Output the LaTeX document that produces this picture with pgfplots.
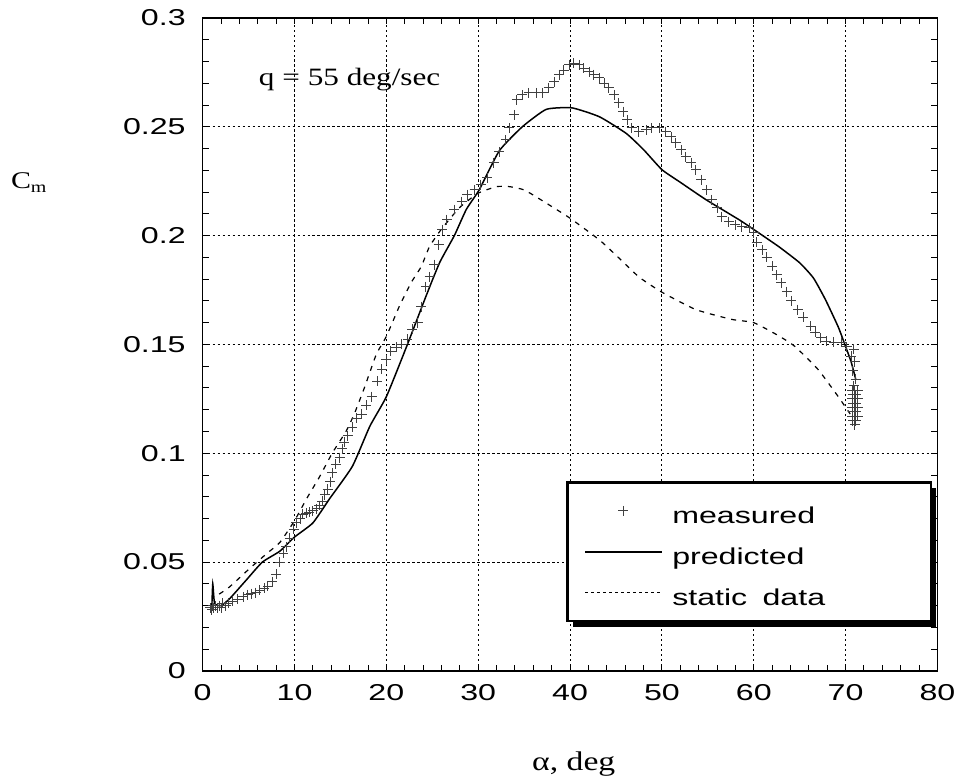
\documentclass[border=0pt]{standalone}
\usepackage{pgfplots}
\pgfplotsset{compat=1.18}
\usepackage{fontspec}
\setmainfont[FakeStretch=1.25]{Liberation Serif}
\newfontfamily\tickfont[FakeStretch=1.4]{Liberation Sans}
\usetikzlibrary{shadows}
\makeatletter
\tikzset{noshadow/.code={\let\tikz@preactions\pgfutil@empty}}
\makeatother
\begin{document}
\begin{tikzpicture}
\begin{axis}[
  scale only axis,
  width=368pt, height=327pt,
  xmin=0, xmax=80, ymin=0, ymax=0.3,
  xtick={0,10,...,80},
  xticklabels={0,10,20,30,40,50,60,70,80},
  ytick={0,0.05,0.1,0.15,0.2,0.25,0.3},
  yticklabels={0,0.05,0.1,0.15,0.2,0.25,0.3},
  minor x tick num=4, minor y tick num=4,
  tick pos=both, tick align=inside,
  major tick length=3pt, minor tick length=3pt,
  every tick/.style={black, line width=0.5pt},
  axis line style={line width=0.8pt},
  grid=major,
  major grid style={black, line width=0.5pt, dash pattern=on 1.2pt off 1.3pt},
  ticklabel style={font=\fontsize{11.5}{13}\tickfont},
  yticklabel style={xshift=-5pt},
  xticklabel style={yshift=-3.5pt},
  clip=false,
  xlabel={α, deg},
  xlabel style={font=\fontsize{13.5}{15}\selectfont, at={(rel axis cs:0.505,-0.142)}, anchor=center},
  ylabel={C\textsubscript{m}},
  ylabel style={font=\fontsize{12}{14}\selectfont, rotate=-90, at={(rel axis cs:-0.236,0.748)}, anchor=center},
  legend style={at={(axis cs:39.6,0.0872)}, anchor=north west,
    draw=black, line width=1.3pt, fill=white,
    drop shadow={shadow xshift=2.5pt, shadow yshift=-3pt, fill=black, opacity=1},
    inner xsep=8.5pt, inner ysep=5.75pt, row sep=3.5pt, column sep=5pt,
    font=\fontsize{11.5}{13}\tickfont,
    nodes={inner sep=0pt, text height=15pt, text depth=2pt, text width=121pt, align=left}},
  legend cell align=left,
]
\addplot[only marks, mark=+, mark size=2.5pt, mark options={line width=0.5pt, black!75},
  legend image code/.code={\draw[noshadow, mark=+, mark size=2.5pt, line width=0.5pt, black!60] plot coordinates {(0.67cm,0cm)};}]
coordinates {
(0.8,0.029)(1.0,0.028)(1.1,0.030)(1.2,0.029)(1.4,0.030)(1.6,0.029)(1.8,0.030)(2.0,0.029)
(2.2,0.031)(2.5,0.030)(2.8,0.031)(3.3,0.032)(3.8,0.033)(4.4,0.034)(4.9,0.035)(5.3,0.0355)
(5.8,0.036)(6.2,0.037)(6.7,0.038)(7.1,0.039)(7.6,0.041)(8.0,0.0445)(8.4,0.050)(8.8,0.054)
(9.1,0.057)(9.5,0.061)(9.9,0.065)(10.2,0.068)(10.6,0.070)(10.9,0.072)(11.3,0.0725)(11.6,0.073)
(12.0,0.0735)(12.4,0.0745)(12.7,0.076)(13.0,0.078)(13.3,0.081)(13.6,0.0835)(13.9,0.087)(14.1,0.091)
(14.5,0.095)(14.9,0.098)(15.2,0.102)(15.4,0.105)(15.8,0.108)(16.3,0.112)(16.8,0.116)(17.3,0.118)
(17.8,0.122)(18.4,0.126)(19.0,0.133)(19.5,0.1385)(20.0,0.143)(20.5,0.1468)(21.1,0.1486)(21.7,0.150)
(22.3,0.1523)(22.8,0.157)(23.4,0.160)(23.8,0.1674)(24.3,0.1766)(24.7,0.181)(25.2,0.1867)(25.7,0.1959)
(26.1,0.2028)(26.6,0.2073)(27.4,0.212)(28.2,0.2156)(28.8,0.2188)(29.6,0.221)(30.3,0.2234)(31.0,0.2266)
(31.7,0.2335)(32.3,0.2385)(33.0,0.244)(33.4,0.2495)(33.9,0.2555)(34.2,0.2624)(34.8,0.2647)(35.5,0.2656)
(36.3,0.2656)(37.0,0.2656)(37.7,0.268)(38.3,0.2706)(38.8,0.274)(39.3,0.276)(39.9,0.2784)(40.4,0.2793)
(41.0,0.2784)(41.5,0.277)(42.1,0.2752)(42.6,0.274)(43.2,0.2725)(43.7,0.270)(44.2,0.268)(44.8,0.2647)
(45.3,0.261)(45.8,0.257)(46.2,0.2532)(46.7,0.2495)(47.5,0.2477)(48.3,0.2486)(48.9,0.2495)(49.7,0.2495)
(50.4,0.2477)(51.0,0.2454)(51.5,0.2427)(52.1,0.2394)(52.6,0.2362)(53.2,0.2335)(53.7,0.2303)(54.3,0.2257)
(54.9,0.221)(55.4,0.2165)(56.0,0.2128)(56.5,0.2087)(57.3,0.2064)(58.0,0.205)(58.7,0.2041)(59.5,0.2037)
(60.0,0.2014)(60.3,0.197)(60.9,0.1936)(61.4,0.190)(62.0,0.186)(62.5,0.182)(63.0,0.1784)(63.6,0.1743)
(64.1,0.170)(64.8,0.166)(65.4,0.1624)(66.2,0.1583)(66.7,0.1555)(67.3,0.153)(67.9,0.1514)(68.7,0.151)
(69.5,0.151)(70.1,0.149)(70.9,0.1477)(70.6,0.1445)(71.0,0.142)(70.8,0.138)(71.1,0.134)(70.9,0.131)
(70.7,0.129)(71.0,0.129)(71.3,0.129)(70.8,0.127)(71.1,0.127)
(70.7,0.125)(71.0,0.125)(71.3,0.125)(70.8,0.123)(71.1,0.123)
(70.7,0.121)(71.0,0.121)(71.3,0.121)(70.8,0.119)(71.1,0.119)
(70.7,0.117)(71.0,0.117)(71.3,0.117)(70.8,0.115)(71.1,0.115)(71.0,0.113)
};
\addlegendentry{measured}
\addplot[black, line width=0.75pt, smooth, tension=0.3,
  legend image code/.code={\draw[noshadow, black, line width=0.75pt] (0cm,0cm) -- (1.34cm,0cm);}]
coordinates {
(1.0,0.029)(1.1,0.040)(1.3,0.031)(2.0,0.030)(2.9,0.033)(4.8,0.042)(6.5,0.050)(8.4,0.055)
(10.0,0.0615)(12.0,0.068)(13.8,0.079)(16.3,0.094)(18.2,0.1124)(20.0,0.126)(22.2,0.149)(24.3,0.172)
(25.8,0.1876)(27.4,0.200)(28.7,0.212)(30.1,0.221)(32.3,0.239)(34.8,0.250)(37.4,0.258)(40.2,0.2587)
(43.2,0.2546)(46.1,0.247)(48.0,0.2395)(50.0,0.2303)(52.0,0.2245)(54.8,0.2165)(58.4,0.2073)(60.0,0.2028)
(62.7,0.195)(65.0,0.1875)(66.5,0.1805)(67.8,0.1706)(69.2,0.158)(70.0,0.149)(70.6,0.142)(71.1,0.134)
};
\addlegendentry{predicted}
\addplot[black, line width=0.6pt, dash pattern=on 2.5pt off 3pt, smooth, tension=0.3,
  legend image code/.code={\draw[noshadow, black, line width=0.6pt, dash pattern=on 1.5pt off 1.5pt] (0cm,0cm) -- (1.34cm,0cm);}]
coordinates {
(1.8,0.0353)(2.9,0.0385)(5.1,0.047)(7.0,0.054)(8.4,0.059)(10.0,0.069)(11.3,0.079)(12.7,0.089)
(14.1,0.100)(15.6,0.110)(16.5,0.118)(17.6,0.130)(18.9,0.1454)(20.0,0.1537)(21.4,0.1674)(22.7,0.1784)
(23.8,0.1858)(24.7,0.195)(26.0,0.203)(28.0,0.213)(30.0,0.2195)(32.0,0.2225)(33.4,0.2225)(35.0,0.221)
(37.0,0.216)(40.0,0.208)(43.2,0.198)(45.0,0.191)(47.5,0.181)(50.0,0.174)(53.7,0.166)(57.6,0.1615)
(60.0,0.160)(62.7,0.154)(64.5,0.149)(67.0,0.1385)(69.2,0.126)(70.5,0.118)
};
\addlegendentry{static\ \ data}
\node[font=\fontsize{12.5}{15}\selectfont, anchor=center] at (axis cs:16,0.2716) {q = 55 deg/sec};
\end{axis}
\path ([shift={(-101.5pt,-55pt)}]current axis.south west) rectangle ([shift={(379.5pt,336pt)}]current axis.south west);
\end{tikzpicture}
\end{document}
